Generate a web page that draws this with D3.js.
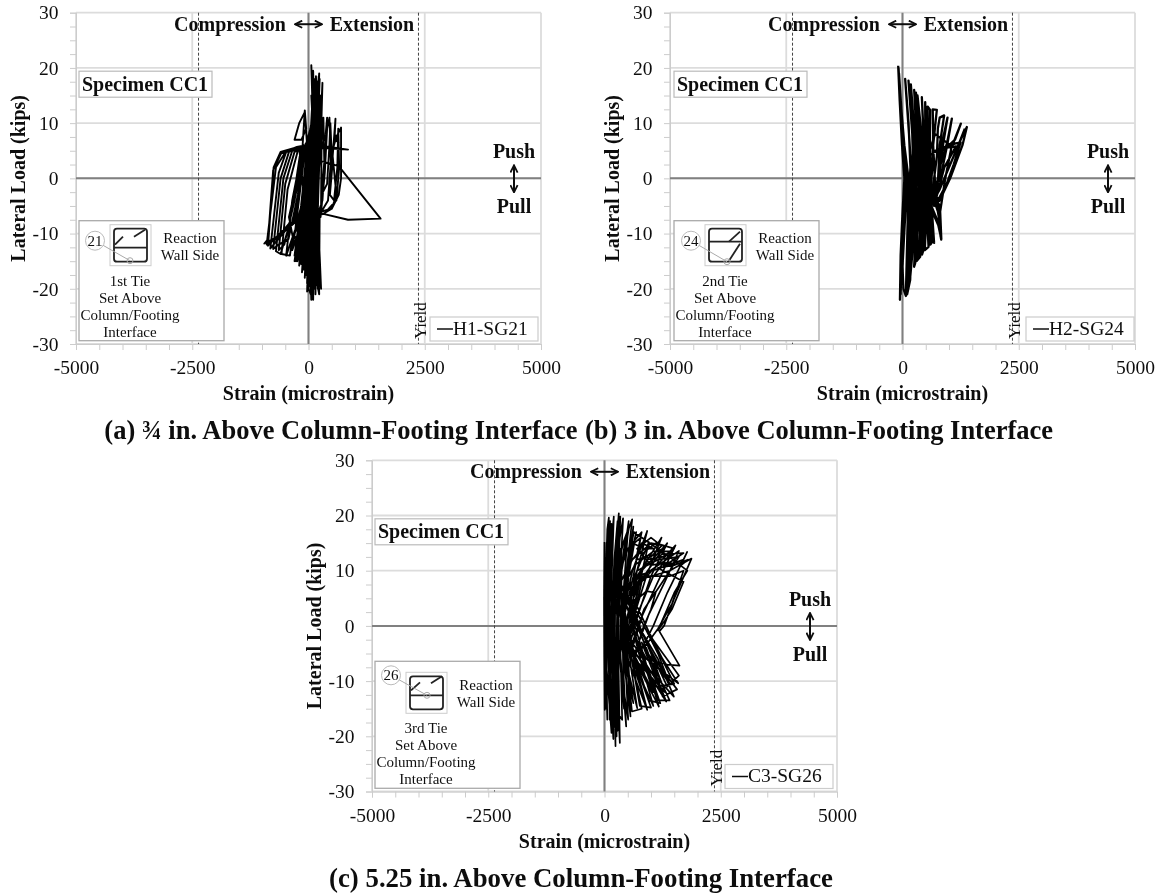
<!DOCTYPE html>
<html lang="en">
<head>
<meta charset="UTF-8">
<title>Specimen CC1 tie strain</title>
<script src="https://cdn.jsdelivr.net/npm/d3@7/dist/d3.min.js"></script>
<style>
  html, body { margin: 0; background: #fff; }
  text { font-family: "Liberation Serif", serif; fill: #111; }
</style>
</head>
<body>
<script>
// axis values
const xMajor = [-5000, -2500, 0, 2500, 5000];
const yMajor = [-30, -20, -10, 0, 10, 20, 30];
const xMinor = [-5000,-4500,-4000,-3500,-3000,-2500,-2000,-1500,-1000,-500,0,500,1000,1500,2000,2500,3000,3500,4000,4500,5000];
const yMinor = [-30,-27.5,-25,-22.5,-20,-17.5,-15,-12.5,-10,-7.5,-5,-2.5,0,2.5,5,7.5,10,12.5,15,17.5,20,22.5,25,27.5,30];
const yieldStrain = [-2365, 2365];

// strain, load
const h1Sg21 = [[0,0],[60,3],[90,6],[40,2],[-20,-3],[-40,-6],[10,-1],[80,5],[120,9],[60,3],[-40,-4],[-90,-9],[-20,-3],[70,5],[130,11],[60,3],[-50,-6],[-120,-11],
[-30,-3],[90,8],[150,13],[70,4],[-60,-7],[-140,-13],[-40,-4],[100,9],[170,15],[50,4],[-70,-8],[-170,-14],[-60,-6],[110,10],[60,20.5],[90,12],[30,2],[-90,-9],[-20,-17],
[-30,-8],[40,3],[100,14],[100,19.5],[130,8],[50,-2],[0,-20],[50,-21],[40,-6],[110,5],[230,19],[200,8],[130,-3],[100,-22],[120,-8],[170,6],[240,18],[180,4],[150,-21],[170,-6],
[240,6],[300,17.3],[260,5],[160,-5],[270,-20],[200,-6],[240,5],[160,18.5],[110,6],[60,-5],[-100,-16.5],[-60,-5],[30,5],[140,17],[80,4],[-10,-6],[-160,-15.5],[-60,-4],
[50,6],[170,16],[90,3],[-20,-7],[-240,-15],[-100,-4],[20,5],[120,14],[60,3],[-30,-8],[-300,-14],[-160,-5],[-30,5.5],[100,12],[40,2],[-60,-6],[-350,-13],[-280,-9],
[-60,6],[40,9],[-20,3],[-150,-6],[-480,-14],[-350,-4],[-130,5.5],[-80,12.3],[-50,9],[-150,7],[-300,7],[-200,10],[-80,12],[-30,6],
[-100,-6],[-350,-11],[-400,-14],[-580,-13.7],[-450,-2],[-220,5.3],[20,6],[100,0],[-100,-6.5],[-430,-9],[-600,-13.7],[-700,-13.2],[-540,0],[-350,5],[0,6],[-150,-7],[-500,-9.5],
[-820,-12.7],[-640,1],[-470,5],[-50,5.8],[-300,-7.5],[-620,-10],[-870,-12.2],[-750,2],[-600,4.8],[-300,5.5],[0,6],[300,6],[140,0],[-200,-7],[-650,-10.5],[-950,-11.8],
[-870,-11],[-760,1.5],[-590,4.5],[-250,5.7],[50,6.2],[850,5.2],[200,5.6],[70,-2],[150,-9],[230,-13],[120,-6],[180,2],[370,8],[400,11],[360,4],[300,-4],[200,-6.5],[260,-7],
[350,1],[400,9],[450,11],[480,3],[420,-4],[280,-6],[500,-5.5],[600,-3],[520,4],[580,10.8],[560,7],[650,6.5],[560,8],[530,5.5],[600,7.5],[700,9.2],[700,0],[650,-3],[500,-5.5],[300,-6.5],
[250,-6.3],[850,-7.5],[1550,-7.3],[650,2.2],[0,3.8],[100,-2],[200,-6],[120,-18],[60,-8],[100,2],[180,14],[90,2],[20,-12],[-30,-19],[10,-4],[100,8],[200,16],[90,0],[40,-16],[100,-19],[120,-4],[220,18.5],
[130,3],[70,-8],[-210,-14.5],[-90,-3],[40,7],[150,15],[60,-2],[-40,-10],[-270,-15],[-120,-5],[60,8],[130,16.5],[180,6],[100,-6],[30,-19.5],[60,-5],[130,7],[190,17.5],[220,5],[160,-8],[200,-20],[140,-4],[190,8],[250,15],
[210,0],[150,-14],[-60,-17.5],[20,-3],[110,9],[60,15],[120,5],[90,-10],[-130,-16],[-30,-4],[70,12],[120,18],[160,2],[120,-16],[230,-21],[180,-4],[210,10],[150,14],[90,-2],[-20,-14],[-200,-13],[-250,-8],[-60,-2],[30,1],[-10,-9],[-330,-11],
[-420,-7],[-180,2],[-60,6.3],[-300,-4],[-520,-12],[-640,-13],[-500,-1],[-300,4.8],[-100,5.5],[-230,-3],[-430,-11],[-640,-12],[-760,-12.8],[-600,0],[-420,4.8],[-160,5.6],[-400,-8],[-700,-11],[-900,-12],[-700,2],[-500,4.7],
[-200,5.5],[-100,-3],[-250,-12],[-300,-15],[-180,-8],[-60,0],[-110,-9],[-200,-15.8],[-120,-7],[-20,2],[-70,-10],[-140,-17],[-70,-8],[10,3],[-30,-11],[-80,-18],[-30,-9],[40,2],[10,-12],[-30,-20.5],[10,-10],[60,1],[30,-14],[60,-22],
[90,-8],[150,3],[110,-12],[130,-20],[150,-6],[220,6],[180,-12],[230,-19],[240,-6],[270,-6],[280,6],[320,11],[340,3],[280,-3],[400,-1],[450,6],[470,10],[510,2],[460,-3],[550,-4],[620,2],[640,9],[660,2],[600,-4],[380,-6]];

// strain, load
const h2Sg24 = [[-93,20.4],[-60,14],[-10,6],[40,0],[-10,-8],[-40,-14],[-55,-22],[-30,-14],[10,-5],[70,0],[0,8],[-60,16],[-85,20],[-30,10],[30,4],[110,0],[30,-6],[-20,-14],[-40,-21],[-10,-12],[40,-3],[130,0],[40,6],[-20,12],[-75,19],
[-20,8],[60,2],[125,-1],[50,-8],[0,-16],[20,-20],
[72,-21.3],[110,-8],[170,2],[130,10],[57,18],[140,8],[200,0],[140,-10],[72,-21],[120,-10],[190,-1],[230,6],[129,17.7],[210,8],[240,-1],[190,-9],[100,-21],[165,-18.4],[210,-8],[260,0],[240,8],[180,17],[260,8],[290,-2],[240,-9],[165,-18],
[230,-12],[270,-4],[310,2],[300,8],[251,16],[320,7],[340,-2],[290,-9],[272,-15.4],[250,-16],[300,-7],[360,0],[350,8],[290,15.5],[370,7],[390,0],[330,-8],[300,-15],[380,-14.2],[370,-7],[420,0],[410,8],[323,15],[400,8],[440,0],[400,-7],[340,-14.5],
[400,-13.5],[440,-6],[480,1],[450,8],[416,14.7],[460,7],[500,0],[450,-7],[450,-13],[420,-13.8],[480,-6],[530,1],[490,8],[488,13.8],[520,6],[560,-1],[510,-7],[480,-13],[560,-12.4],[520,-6],[590,2],[550,8],[540,13],[595,12.4],[590,6],[620,0],
[560,-6],[600,-12],[640,-11.5],[580,-5],[650,3],[660,8],[650,12.5],[738,12.4],[660,6],[700,-1],[560,-4],[680,-11.7],[650,-8],[620,-4],[740,4],[760,9],[800,11],[896,11.4],[800,6],[760,-1],[620,-5],[770,-8],[832,-11.1],[800,-7],[680,-4],
[600,-5],[800,1],[840,6],[968,11],[880,6.5],[800,2],[700,-3],[780,-7],[820,-10.6],[790,-5],[700,-2],[840,1],[960,6],[1061,10.8],[960,6.5],[820,2.5],[690,-4],[600,-5.2],[770,-8.5],[835,-11],[810,-6],[920,0],[1050,5.5],
[1255,9.9],[1130,7],[900,5.2],[700,5],[1000,6],[1250,6.5],[1100,2.5],[950,-1],[760,-4],[600,-5],[800,-2],[1000,2],[1250,7],[1384,9.3],[1290,6],[1025,0],[800,-4],[680,-5],[900,2],[1150,5.8],[800,5.4],[550,4],[700,8],[1000,6.2],[1220,6.4],[1340,9]];

// strain, load
const c3Sg26 = [[0,15.2],[-10,5],[-5,-5],[5,-15.2],[10,-5],[20,6],[60,17.5],[93,19.6],[70,5],[50,-8],[150,-19.4],[130,-8],[100,4],[180,18],[200,19.8],[140,5],[120,-10],[190,-20.5],
[170,-10],[170,3],[240,14],[308,20.4],[250,8],[190,-8],[237,-21.8],[220,-8],[230,5],[330,16],[400,19.5],[320,6],[250,-8],[330,-21.2],[300,-6],[310,7],[450,16],[595,19.3],
[450,8],[340,-5],[466,-18.2],[400,-7],[380,3],[500,10],[681,17],[520,9],[370,-3],[559,-16.4],[480,-6],[420,3],[600,10],[918,17.2],[700,10],[500,2],[420,-5],[703,-14.9],[560,-7],[480,0],[650,9],[954,15.2],[760,8],[560,0],[450,-5],[918,-15.2],[700,-8],[520,0],[700,9],
[1226,16],[900,9],[680,3],[480,-4],[1050,-14.5],[800,-7],[560,1],[760,8],[1350,15],[1000,9],[720,2],[520,-4],[1169,-14.6],[900,-7],[620,1],[800,8],[1527,14.6],[1150,8],[820,2],[600,-4],[1327,-13.7],[1000,-6.5],[720,0],[550,5],[900,9.5],
[1600,13.6],[1300,8],[950,2],[650,-5],[1492,-12.8],[1150,-6],[800,-1],[520,5.3],[700,9],[1700,12],[1778,13.4],[1350,6],[1050,0],[750,-5],[1585,-10.4],[1250,-6],[950,-1],[620,5],[800,8.5],[1400,10],[1871,12.2],[1500,5],[1280,0],[1180,-1],
[1613,-7.2],[1350,-7],[900,-6],[650,-2],[500,5.3],[800,9],[1400,9],[1700,10],[1450,4],[1150,-0.5],[850,-4],[1400,-10.5],[1150,-5],[850,0],[600,4],[900,6.3],[1100,6],[1000,3],[800,-1],[650,-6],[1300,-12],[1000,-5],[700,1],
[480,6],[700,10],[1150,12],[1600,12.5],[1250,8],[850,3],[600,-3],[1200,-11],[900,-4],[600,2],[400,7],[650,11],[1050,13.5],[1450,13.5],[1050,9],[700,2],[500,-3],[1050,-12],[750,-4],[500,3],[350,8],[600,12],[1000,15],[1300,14.5],
[800,10],[550,3],[420,-2],[850,-13],[600,-5],[430,3],[300,9],[500,14],[780,16],[620,9],[430,2],[350,-3],[620,-14],[480,-6],[340,2],[250,9],[400,15],[530,18],[350,9],[280,-1],[420,-15],[330,-6],[260,3],[350,14],[230,8],[200,-4],[280,-19],[240,-8],
[210,4],[270,17],[170,6],[140,-6],[110,-17],[90,-6],[90,6],[150,18.5],[60,6],[30,-8],[60,-17],[40,-6],[30,5],[120,19],[40,6],[10,-6],[25,-15],[20,-5],[15,8],[45,15],
[130,-12],[200,-17],[150,0],[210,12],[280,19],[200,2],[170,-16],[260,-20],[260,-3],[290,12],[340,19.8],[280,3],[300,-16],[380,-17],[340,-3],[370,10],[520,19],[380,3],[420,-12],[510,-17],[420,-2],[460,8],[620,18],[440,3],[560,-13],
[590,-15.5],[800,-15],[700,-11],[520,-3],[760,-14.5],[1000,-14.8],[800,-10],[600,-4],[950,-13.5],[1200,-14],[950,-8],[700,-3],[1150,-13.5],[1400,-13.5],[1100,-8],[800,-3],[1250,-12.8],[1560,-11.5],[1200,-7.5],[900,-3],[1350,-11],[1600,-9],[1300,-5.5],
[1000,-2],[1500,-10.5],[1100,-11],[800,-7],[650,-2],[560,6],[850,11],[1250,13],[1700,13.2],[1400,11.5],[1000,11],[800,13],[1100,15],[1500,14],[1250,12.5],[900,12],[700,14],[1000,16],[1226,14.5],[1000,12.5],[680,12],[800,15],[1050,14],[850,14],[600,15],[800,17],
[700,13],[500,11],[630,17],[1650,11],[1800,12],[1500,11],[1150,10.5],[1700,8],[1450,3],[1300,1],[1150,-0.8],[1500,6],[1780,10],[1550,11.5],[1250,11]];

const seriesList = [h1Sg21, h2Sg24, c3Sg26];
const strokeWidths = [1.9, 2.3, 1.7];
const legendNames = ['H1-SG21', 'H2-SG24', 'C3-SG26'];
const captions = ['(a) ¾ in. Above Column-Footing Interface', '(b) 3 in. Above Column-Footing Interface', '(c) 5.25 in. Above Column-Footing Interface'];
const tieLabels = [['1st Tie', 'Set Above', 'Column/Footing', 'Interface'], ['2nd Tie', 'Set Above', 'Column/Footing', 'Interface'], ['3rd Tie', 'Set Above', 'Column/Footing', 'Interface']];
const gaugeIds = ['21', '24', '26'];

// page positions of the three plots and their insets
const panels = [
  { left: 76, top: 12.7, bottom: 344, inTop: 208, badge: [19, 228], dot: [54, 248], mid: 23, ties: [[5,20,13,12],[24,12,35,5]], capX: 341, capY: 439, capSize: 26.5, legendLeft: 354 },
  { left: 670, top: 12.7, bottom: 344, inTop: 208, inLeft: 4, badge: [21, 228], dot: [57, 249], mid: 17, ties: [[24,17,35,7],[24,36,35,19]], capX: 819, capY: 439, capSize: 26.5, legendLeft: 356 },
  { left: 372, top: 460.3, bottom: 791.5, inTop: 201, badge: [19, 215], dot: [55, 235], mid: 23, ties: [[5,18,14,10],[25,11,36,4]], capX: 581, capY: 886.5, capSize: 26.8, legendLeft: 353 }
];
const plotW = 465;

const svg = d3.select('body').append('svg').attr('width', 1161).attr('height', 894);

const defs = svg.append('defs');
defs.append('filter').attr('id', 'soft').append('feGaussianBlur').attr('stdDeviation', 0.35);
defs.append('marker').attr('id', 'head').attr('viewBox', '0 0 10 10').attr('refX', 9).attr('refY', 5)
  .attr('markerWidth', 4.5).attr('markerHeight', 4.5).attr('orient', 'auto-start-reverse')
  .append('path').attr('d', 'M1,1 L9,5 L1,9').attr('fill', 'none').attr('stroke', '#111').attr('stroke-width', 2);

const root = svg.append('g').attr('filter', 'url(#soft)');

panels.forEach((p, i) => {
  const plotH = p.bottom - p.top;
  const x = d3.scaleLinear().domain([-5000, 5000]).range([0, plotW]);
  const y = d3.scaleLinear().domain([-30, 30]).range([plotH, 0]);
  const g = root.append('g').attr('transform', `translate(${p.left},${p.top})`);

  // grid
  g.selectAll('.gx').data(xMajor).enter().append('line')
    .attr('x1', d => x(d)).attr('x2', d => x(d)).attr('y1', 0).attr('y2', plotH)
    .attr('stroke', '#dcdcdc').attr('stroke-width', 1.8);
  g.selectAll('.gy').data(yMajor).enter().append('line')
    .attr('x1', 0).attr('x2', plotW).attr('y1', d => y(d)).attr('y2', d => y(d))
    .attr('stroke', '#dcdcdc').attr('stroke-width', 1.8);

  // axes, minor ticks all round and labels on the major ones only
  const xAxis = d3.axisBottom(x).tickValues(xMinor).tickSize(6).tickPadding(10.5)
    .tickFormat(d => xMajor.includes(d) ? String(d) : '');
  const yAxis = d3.axisLeft(y).tickValues(yMinor).tickSize(6).tickPadding(11.5)
    .tickFormat(d => yMajor.includes(d) ? String(d) : '');
  const gx = g.append('g').attr('transform', `translate(0,${plotH})`).call(xAxis);
  const gy = g.append('g').call(yAxis);
  [gx, gy].forEach(a => {
    a.select('.domain').attr('stroke', '#ccc');
    a.selectAll('.tick line').attr('stroke', '#ccc');
    a.selectAll('text').style('font-family', '"Liberation Serif", serif').style('font-size', '19.5px').attr('fill', '#111');
  });

  // zero lines
  g.append('line').attr('x1', x(0)).attr('x2', x(0)).attr('y1', 0).attr('y2', plotH).attr('stroke', '#808080').attr('stroke-width', 2);
  g.append('line').attr('x1', 0).attr('x2', plotW).attr('y1', y(0)).attr('y2', y(0)).attr('stroke', '#808080').attr('stroke-width', 2);

  // yield lines
  g.selectAll('.yl').data(yieldStrain).enter().append('line')
    .attr('x1', d => x(d)).attr('x2', d => x(d)).attr('y1', 0).attr('y2', plotH)
    .attr('stroke', '#444').attr('stroke-width', 1).attr('stroke-dasharray', '3,2');

  // the curve
  const line = d3.line().x(d => x(d[0])).y(d => y(d[1]));
  g.append('path').datum(seriesList[i]).attr('d', line)
    .attr('fill', 'none').attr('stroke', '#050505').attr('stroke-width', strokeWidths[i]).attr('stroke-linejoin', 'round');

  // compression / extension header
  g.append('text').attr('x', 154).attr('y', 18).attr('text-anchor', 'middle').attr('font-weight', 'bold').attr('font-size', 20).text('Compression');
  g.append('text').attr('x', 296).attr('y', 18).attr('text-anchor', 'middle').attr('font-weight', 'bold').attr('font-size', 20).text('Extension');
  g.append('line').attr('x1', 219).attr('x2', 246).attr('y1', 11.5).attr('y2', 11.5)
    .attr('stroke', '#111').attr('stroke-width', 2).attr('marker-start', 'url(#head)').attr('marker-end', 'url(#head)');

  // push / pull
  g.append('text').attr('x', 438).attr('y', plotH / 2 - 20).attr('text-anchor', 'middle').attr('font-weight', 'bold').attr('font-size', 20).text('Push');
  g.append('text').attr('x', 438).attr('y', plotH / 2 + 35).attr('text-anchor', 'middle').attr('font-weight', 'bold').attr('font-size', 20).text('Pull');
  g.append('line').attr('x1', 438).attr('x2', 438).attr('y1', plotH / 2 - 13).attr('y2', plotH / 2 + 14)
    .attr('stroke', '#111').attr('stroke-width', 2).attr('marker-start', 'url(#head)').attr('marker-end', 'url(#head)');

  // yield label
  g.append('text').attr('transform', `translate(${x(2365) + 8},${plotH - 5}) rotate(-90)`).attr('font-size', 17).text('Yield');

  // legend
  g.append('rect').attr('x', p.legendLeft).attr('y', plotH - 27).attr('width', 108).attr('height', 24)
    .attr('fill', '#fff').attr('stroke', '#ccc').attr('stroke-width', 1.2);
  g.append('line').attr('x1', p.legendLeft + 7).attr('x2', p.legendLeft + 23).attr('y1', plotH - 15).attr('y2', plotH - 15).attr('stroke', '#111').attr('stroke-width', 1.5);
  g.append('text').attr('x', p.legendLeft + 23).attr('y', plotH - 9).attr('font-size', 19.5).text(legendNames[i]);

  // specimen box
  const inL = p.inLeft || 3;
  g.append('rect').attr('x', inL).attr('y', 58.5).attr('width', 133).attr('height', 26)
    .attr('fill', '#fff').attr('stroke', '#bbb').attr('stroke-width', 1.2);
  g.append('text').attr('x', inL + 3).attr('y', 78).attr('font-weight', 'bold').attr('font-size', 20).text('Specimen CC1');

  // inset with tie sketch
  const inset = g.append('g').attr('font-size', 15);
  inset.append('rect').attr('x', inL).attr('y', p.inTop).attr('width', 145).attr('height', 328 - p.inTop)
    .attr('fill', '#fff').attr('stroke', '#aaa').attr('stroke-width', 1.3);
  const tie = inset.append('g').attr('transform', `translate(${inL + 31},212)`);
  tie.append('rect').attr('width', 41).attr('height', 41).attr('fill', 'none').attr('stroke', '#ccc');
  tie.append('rect').attr('x', 4).attr('y', 4).attr('width', 33).attr('height', 33).attr('rx', 3)
    .attr('fill', 'none').attr('stroke', '#222').attr('stroke-width', 1.8);
  tie.append('line').attr('x1', 4).attr('x2', 37).attr('y1', p.mid).attr('y2', p.mid).attr('stroke', '#222').attr('stroke-width', 1.8);
  tie.selectAll('.diag').data(p.ties).enter().append('line')
    .attr('x1', d => d[0]).attr('y1', d => d[1]).attr('x2', d => d[2]).attr('y2', d => d[3])
    .attr('stroke', '#222').attr('stroke-width', 1.8);
  inset.append('line').attr('x1', p.badge[0]).attr('y1', p.badge[1]).attr('x2', p.dot[0]).attr('y2', p.dot[1]).attr('stroke', '#aaa');
  inset.append('circle').attr('cx', p.dot[0]).attr('cy', p.dot[1]).attr('r', 3).attr('fill', 'none').attr('stroke', '#aaa');
  inset.append('circle').attr('cx', p.badge[0]).attr('cy', p.badge[1]).attr('r', 9.5).attr('fill', '#fff').attr('stroke', '#bbb');
  inset.append('text').attr('x', p.badge[0]).attr('y', p.badge[1] + 5).attr('text-anchor', 'middle').text(gaugeIds[i]);
  inset.selectAll('.rw').data(['Reaction', 'Wall Side']).enter().append('text')
    .attr('x', inL + 111).attr('y', (d, k) => 230 + k * 17).attr('text-anchor', 'middle').text(d => d);
  inset.selectAll('.tl').data(tieLabels[i]).enter().append('text')
    .attr('x', inL + 51).attr('y', (d, k) => 273 + k * 17).attr('text-anchor', 'middle').text(d => d);

  // axis titles
  g.append('text').attr('x', plotW / 2).attr('y', plotH + 56.5).attr('text-anchor', 'middle').attr('font-weight', 'bold').attr('font-size', 20).text('Strain (microstrain)');
  g.append('text').attr('transform', `translate(-51,${plotH / 2}) rotate(-90)`).attr('text-anchor', 'middle').attr('font-weight', 'bold').attr('font-size', 20).text('Lateral Load (kips)');

  // caption
  root.append('text').attr('x', p.capX).attr('y', p.capY).attr('text-anchor', 'middle').attr('font-weight', 'bold').attr('font-size', p.capSize).text(captions[i]);
});
</script>
</body>
</html>
